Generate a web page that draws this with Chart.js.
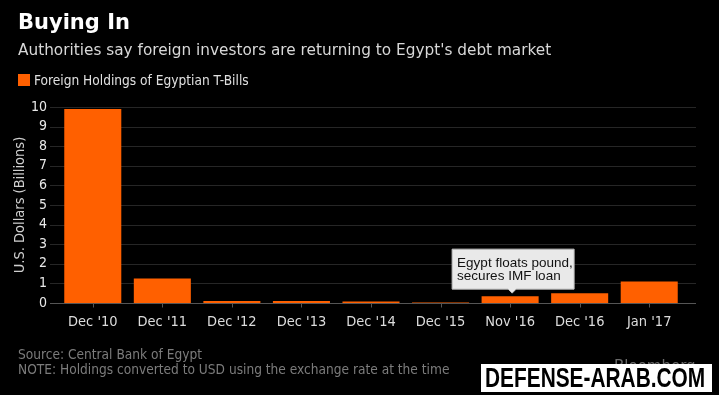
<!DOCTYPE html>
<html>
<head>
<meta charset="utf-8">
<script src="https://cdn.jsdelivr.net/npm/chart.js@4/dist/chart.umd.min.js"></script>
<style>
  body { margin: 0; background: #000; width: 719px; height: 395px; overflow: hidden; position: relative; font-family: "DejaVu Sans", sans-serif; }
  #myChart { position: absolute; left: 0; top: 0; }
  .txt { position: absolute; white-space: nowrap; line-height: 1; }
  #title { left: 18px; top: 12px; font-size: 21px; font-weight: bold; color: #fff; }
  #subtitle { left: 18px; top: 43px; font-size: 15.3px; color: #d8d8d8; }
  #legend { left: 18px; top: 74px; font-size: 13.6px; color: #e0e0e0; font-family: "DejaVu Sans Condensed", "DejaVu Sans", sans-serif; }
  #legend span { display: inline-block; width: 12px; height: 12px; background: #ff6000; vertical-align: -1px; margin-right: 4px; }
  #source { left: 18px; top: 348px; font-size: 13.6px; color: #7c7c7c; font-family: "DejaVu Sans Condensed", "DejaVu Sans", sans-serif; }
  #note { left: 18px; top: 363px; font-size: 13.6px; color: #7c7c7c; font-family: "DejaVu Sans Condensed", "DejaVu Sans", sans-serif; }
  #bbg { left: 614px; top: 359px; font-size: 15px; color: #6a6a6a; }
  #mark { left: 481px; top: 364px; width: 231px; height: 28px; background: #fff; color: #000; overflow: hidden; }
  #mark span { position: absolute; left: 4px; top: 0px; font-family: "Liberation Sans", Arial, sans-serif; font-weight: bold; font-size: 28px; transform: scaleX(0.745); transform-origin: 0 0; }
</style>
</head>
<body>
<canvas id="myChart" width="719" height="395"></canvas>
<div class="txt" id="title">Buying In</div>
<div class="txt" id="subtitle">Authorities say foreign investors are returning to Egypt's debt market</div>
<div class="txt" id="legend"><span></span>Foreign Holdings of Egyptian T-Bills</div>
<div class="txt" id="source">Source: Central Bank of Egypt</div>
<div class="txt" id="bbg">Bloomberg</div>
<div class="txt" id="note">NOTE: Holdings converted to USD using the exchange rate at the time</div>
<div class="txt" id="mark"><span>DEFENSE-ARAB.COM</span></div>
<script>
const periods = ["Dec '10", "Dec '11", "Dec '12", "Dec '13", "Dec '14", "Dec '15", "Nov '16", "Dec '16", "Jan '17"];
const holdings = [9.9, 1.25, 0.1, 0.1, 0.08, 0.02, 0.35, 0.5, 1.1];
const yTicks = [0, 1, 2, 3, 4, 5, 6, 7, 8, 9, 10];
const noteIndex = 6;
const noteLines = ['Egypt floats pound,', 'secures IMF loan'];

// grid lines and zero line run a bit past the plot area, like the original
const gridPlugin = {
  id: 'grid',
  beforeDatasetsDraw(chart) {
    const ctx = chart.ctx;
    const y = chart.scales.y;
    ctx.save();
    ctx.lineWidth = 1;
    for (const v of yTicks) {
      const py = Math.round(y.getPixelForValue(v)) + 0.5;
      ctx.strokeStyle = v === 0 ? '#555' : '#262626';
      ctx.beginPath();
      ctx.moveTo(50, py);
      ctx.lineTo(696, py);
      ctx.stroke();
    }
    ctx.restore();
  },
  afterDatasetsDraw(chart) {
    const ctx = chart.ctx;
    const y = chart.scales.y;
    const x = chart.scales.x;
    ctx.save();
    const py = Math.round(y.getPixelForValue(0)) + 0.5;
    ctx.strokeStyle = '#555';
    ctx.beginPath();
    ctx.moveTo(50, py);
    ctx.lineTo(696, py);
    for (let i = 0; i < periods.length; i++) {
      const px = Math.round(x.getPixelForValue(i)) + 0.5;
      ctx.moveTo(px, py);
      ctx.lineTo(px, py + 4);
    }
    ctx.stroke();

    // callout box
    const cx = x.getPixelForValue(noteIndex) + 2;
    const tipY = y.getPixelForValue(holdings[noteIndex]) - 3;
    const bottom = tipY - 4;
    const top = bottom - 40;
    const left = cx - 60;
    const right = cx + 62;
    ctx.fillStyle = '#e9e9e9';
    ctx.strokeStyle = '#bdbdbd';
    ctx.beginPath();
    ctx.moveTo(left, top);
    ctx.lineTo(right, top);
    ctx.lineTo(right, bottom);
    ctx.lineTo(cx + 4, bottom);
    ctx.lineTo(cx, tipY);
    ctx.lineTo(cx - 4, bottom);
    ctx.lineTo(left, bottom);
    ctx.closePath();
    ctx.fill();
    ctx.stroke();
    ctx.fillStyle = '#111';
    ctx.font = '13.5px "Liberation Sans", Arial, sans-serif';
    ctx.textBaseline = 'middle';
    ctx.fillText(noteLines[0], left + 5, top + 14);
    ctx.fillText(noteLines[1], left + 5, top + 27);
    ctx.restore();
  }
};

const tickFont = '"DejaVu Sans Condensed", "DejaVu Sans", sans-serif';
const ctx = document.getElementById('myChart').getContext('2d');
const chart = new Chart(ctx, {
  type: 'bar',
  data: {
    labels: periods,
    datasets: [{
      label: 'Foreign Holdings of Egyptian T-Bills',
      backgroundColor: '#ff6000',
      data: holdings,
      categoryPercentage: 0.82,
      barPercentage: 1
    }]
  },
  options: {
    responsive: false,
    animation: false,
    layout: { padding: { top: 107, right: 35, left: 0, bottom: 0 } },
    plugins: { legend: { display: false }, tooltip: { enabled: false } },
    scales: {
      x: {
        grid: { display: false, drawTicks: false },
        border: { display: false },
        ticks: { color: '#dcdcdc', padding: 11, maxRotation: 0, autoSkip: false, font: { family: tickFont, size: 14.5 } },
        afterFit(scale) { scale.height = 92; }
      },
      y: {
        min: 0,
        max: 10,
        grid: { display: false, drawTicks: false },
        border: { display: false },
        ticks: { stepSize: 1, autoSkip: false, color: '#e8e8e8', padding: 11, font: { family: tickFont, size: 14 } },
        title: { display: true, text: 'U.S. Dollars (Billions)', color: '#cfcfcf', padding: { top: 12 }, font: { family: tickFont, size: 14.5 } },
        afterFit(scale) { scale.width = 58; }
      }
    }
  },
  plugins: [gridPlugin]
});
</script>
</body>
</html>
